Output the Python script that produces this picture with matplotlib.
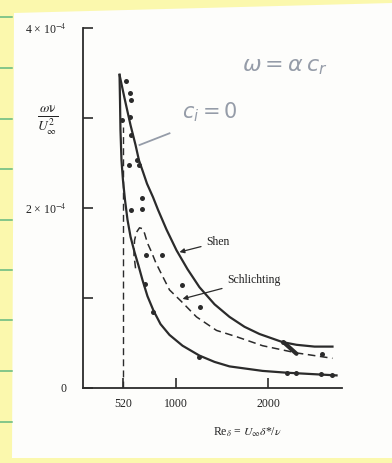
import numpy as np
import matplotlib.pyplot as plt
from matplotlib.patches import Polygon

plt.rcParams['font.family'] = ['Liberation Serif', 'DejaVu Serif']
plt.rcParams['mathtext.fontset'] = 'stix'

# values of omega*nu/U^2 are in units of 1e-4
# neutral curve c_i = 0, upper branch (Shen)
upper_re = [395, 449, 514, 568, 605, 649, 692, 757, 811, 903, 1011, 1130, 1259,
            1422, 1584, 1746, 1908, 2157, 2308, 2503, 2697]
upper_w = [3.48, 3.22, 2.92, 2.70, 2.53, 2.40, 2.27, 2.12, 1.98, 1.76, 1.53, 1.32, 1.12,
           0.93, 0.79, 0.68, 0.60, 0.51, 0.48, 0.46, 0.46]

# neutral curve, lower branch
lower_re = [395, 400, 405, 416, 432, 454, 481, 514, 557, 600, 643, 697, 762,
            838, 935, 1076, 1259, 1422, 1584, 1941, 2200, 2741]
lower_w = [3.48, 3.20, 2.87, 2.53, 2.31, 2.09, 1.87, 1.68, 1.51, 1.36, 1.20, 1.02, 0.86,
           0.71, 0.59, 0.47, 0.36, 0.29, 0.24, 0.19, 0.17, 0.14]

# Schlichting (dashed)
schl_re = [568, 551, 557, 578, 611, 643, 665, 697, 741, 784, 827, 935,
           1065, 1227, 1443, 1659, 1941, 2308, 2697]
schl_w = [1.33, 1.48, 1.64, 1.73, 1.78, 1.77, 1.72, 1.61, 1.51, 1.40, 1.31, 1.09,
          0.96, 0.79, 0.64, 0.57, 0.47, 0.39, 0.33]

# measured points
pts_re = [470, 503, 514, 427, 503, 524, 492, 589, 600, 643, 524, 643,
          676, 859, 665, 1065, 1270, 762, 1259, 2157, 2589, 2200, 2308, 2578, 2697]
pts_w = [3.41, 3.28, 3.20, 2.98, 3.01, 2.81, 2.48, 2.53, 2.48, 2.11, 1.98, 1.99,
         1.48, 1.48, 1.16, 1.14, 0.90, 0.84, 0.34, 0.51, 0.38, 0.17, 0.17, 0.16, 0.14]

# pencil stroke between curves near Re 2200
stroke_re = [2178, 2308]
stroke_w = [0.50, 0.38]

crit_x = 430          # where the dashed critical line sits in the picture
crit_label = '520'
crit_top = 2.9

xticks = [crit_x, 1000, 2000]
xtick_labels = [crit_label, '1000', '2000']
yticks = [0, 1, 2, 3, 4]
ytick_labels = ['0', '', '2 × 10$^{-4}$', '', '4 × 10$^{-4}$']

s = 1e-4
ink = '#2b2b2b'
pencil = '#959ca8'

W, H = 392, 463
fig = plt.figure(figsize=(W / 100, H / 100), dpi=100)
fig.patch.set_facecolor('#fbf8ad')
page = Polygon([(14 / W, 1 - 13 / H), (1, 1 - 3 / H), (1, 1 - 458 / H), (12 / W, 1 - 458 / H)],
               closed=True, transform=fig.transFigure, facecolor='#fdfdfb',
               edgecolor='none', zorder=-2)
fig.patches.append(page)
for gy in [17, 68, 119, 169, 220, 270, 320, 371, 422]:
    fig.add_artist(plt.Line2D([0, 12 / W], [1 - gy / H, 1 - gy / H],
                              transform=fig.transFigure, color='#62b980', lw=1.1,
                              zorder=-1))

ax = fig.add_axes([83 / W, 1 - 388 / H, 259 / W, 360 / H])
ax.set_facecolor('none')

ax.plot(upper_re, np.array(upper_w) * s, color=ink, lw=1.6, solid_joinstyle='round')
ax.plot(lower_re, np.array(lower_w) * s, color=ink, lw=1.6, solid_joinstyle='round')
ax.plot(schl_re, np.array(schl_w) * s, color=ink, lw=1.1, ls=(0, (5, 3)))
ax.plot([crit_x, crit_x], [0, crit_top * s], color=ink, lw=1.0, ls=(0, (5, 3)))
ax.plot(pts_re, np.array(pts_w) * s, 'o', color=ink, ms=3.6, mew=0)
ax.plot(stroke_re, np.array(stroke_w) * s, color=ink, lw=3, solid_capstyle='round')

ax.set_xlim(0, 2800)
ax.set_ylim(0, 4 * s)
ax.set_xticks(xticks)
ax.set_xticklabels(xtick_labels)
ax.set_yticks(np.array(yticks) * s)
ax.set_yticklabels(ytick_labels)
ax.tick_params(axis='both', direction='in', length=7, width=1.2, color=ink,
               labelsize=8.5, labelcolor='#222222')
ax.tick_params(axis='x', pad=7)
ax.tick_params(axis='y', pad=12)
for sp in ['top', 'right']:
    ax.spines[sp].set_visible(False)
for sp in ['left', 'bottom']:
    ax.spines[sp].set_linewidth(1.3)
    ax.spines[sp].set_color(ink)

ax.annotate('Shen', xy=(1043, 1.51 * s), xytext=(1335, 1.62 * s),
            fontsize=8.5, va='center', ha='left', color='#222222',
            arrowprops=dict(arrowstyle='-|>', color=ink, lw=0.9,
                            mutation_scale=7, shrinkA=2, shrinkB=0))
ax.annotate('Schlichting', xy=(1076, 0.99 * s), xytext=(1562, 1.20 * s),
            fontsize=8.5, va='center', ha='left', color='#222222',
            arrowprops=dict(arrowstyle='-|>', color=ink, lw=0.9,
                            mutation_scale=7, shrinkA=2, shrinkB=0))

# pencil notes
ax.text(2178, 3.57 * s, r'$\omega = \alpha\, c_r$', fontsize=16, color=pencil,
        ha='center', va='center', math_fontfamily='dejavusans')
ax.text(1368, 3.07 * s, r'$c_i = 0$', fontsize=15, color=pencil,
        ha='center', va='center', math_fontfamily='dejavusans')
ax.plot([611, 935], [2.70 * s, 2.83 * s], color=pencil, lw=1.3)

fig.text(48 / W, 1 - 121 / H, r'$\frac{\omega\mathrm{\nu}}{U_\infty^2}$', fontsize=14,
         ha='center', va='center', color='#222222')
fig.text(247 / W, 1 - 432 / H, r'Re$_\delta$ = $U_\infty\delta$*/$\nu$', fontsize=8.5,
         ha='center', va='center', color='#222222')

fig.savefig('out.png', dpi=100, facecolor=fig.get_facecolor())
